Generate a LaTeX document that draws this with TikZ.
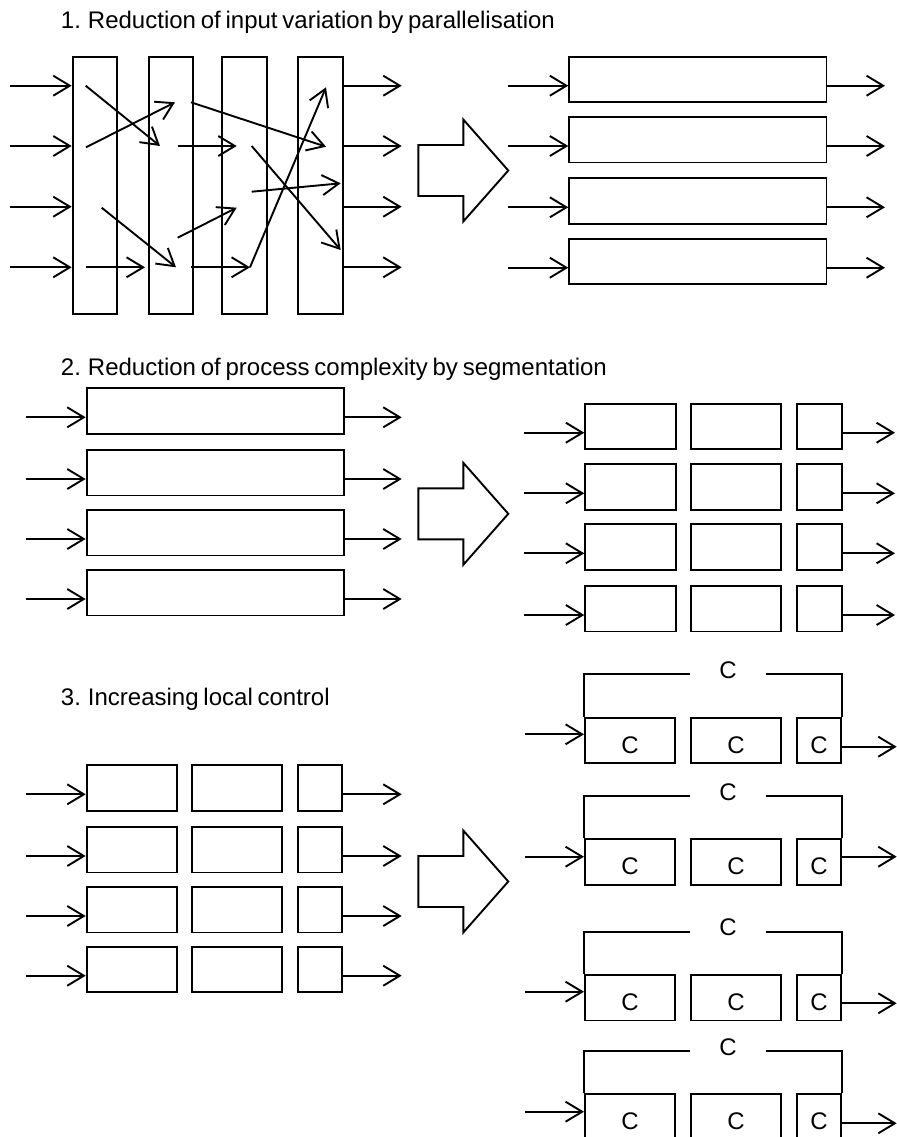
\documentclass[tikz,border=0pt]{standalone}
\usepackage{fontspec}
\setmainfont{Liberation Sans}
\usetikzlibrary{arrows.meta}
\newcommand\diagfont{\fontsize{12}{14}\selectfont\spaceskip=0.2em plus 0.05em\relax}

\begin{document}
\begin{tikzpicture}[
    x=0.5pt, y=-0.5pt,
    line width=0.95pt,
    every node/.style={font=\diagfont},
    blk/.style={rectangle, draw=black, line width=0.95pt, inner sep=0pt,
        anchor=north west, minimum height=22.75pt},
    colbox/.style={blk, minimum width=22.3pt, minimum height=128.7pt},
    longbox/.style={blk, minimum width=128.6pt},
    segA/.style={blk, minimum width=45.2pt},
    segB/.style={blk, minimum width=45.2pt},
    segC/.style={blk, minimum width=22.3pt},
    low/.style={text height=12.6pt, text depth=0pt},
    arr/.style={draw=black, line width=0.95pt,
        -{Straight Barb[length=8.3pt,width=10pt]}},
    ttl/.style={anchor=base west, inner sep=0pt},
    ctag/.style={inner sep=0pt, minimum width=37pt},
    bigarrow/.pic={
        \draw[line width=0.95pt] (0,0) -- (45,0) -- (45,-25.5) -- (90,25.5)
            -- (45,76.5) -- (45,51) -- (0,51) -- cycle;
    },
]
    \useasboundingbox (0,0) rectangle (896,1137);

    % 1. Parallelisation
    \node[ttl] (t1) at (60,28) {1. Reduction of input variation by parallelisation};
    \foreach \c/\x in {1/71.7, 2/147.7, 3/221, 4/297.3}
        \node[colbox] (pc\c) at (\x,55.7) {};
    \foreach \r/\y in {1/85.7, 2/146, 3/206.7, 4/267.3} {
        \coordinate (pi\r) at (10,\y);
        \coordinate (po\r) at (401.7,\y);
        \draw[arr] (pi\r) -- (pi\r -| pc1.west);
        \draw[arr] (po\r -| pc4.east) -- (po\r);
    }
    % crossing flows
    \foreach \n/\p in {s1/{85.7,85.7}, e1/{160,146},
        s2/{86,147.3}, e2/{175,102.3},
        s3/{101.7,207.7}, e3/{176,267.3},
        s4/{86,267.3}, e4/{145,267.3},
        s5/{177.7,146}, e5/{236.7,146},
        s6/{177.7,237.7}, e6/{236.7,207.7},
        s7/{191,102.3}, e7/{326,146.7},
        s8/{191,267.3}, e8/{250,267.3},
        s9/{250,267.3}, e9/{326,87.3},
        s10/{251.7,191.7}, e10/{340.7,183.3},
        s11/{251.7,146}, e11/{340.7,250}}
        \coordinate (\n) at (\p);
    \foreach \k in {1,...,11}
        \draw[arr] (s\k) -- (e\k);

    \pic at (418.3,145) {bigarrow};

    \foreach \r/\y in {1/55.7, 2/116, 3/177.3, 4/237.7} {
        \node[longbox] (pb\r) at (568.3,\y) {};
        \coordinate (qi\r) at (508.3,\y+30);
        \coordinate (qo\r) at (885,\y+30);
        \draw[arr] (qi\r) -- (qi\r -| pb\r.west);
        \draw[arr] (qo\r -| pb\r.east) -- (qo\r);
    }

    % 2. Segmentation
    \node[ttl] (t2) at (60,375) {2. Reduction of process complexity by segmentation};
    \foreach \r/\y in {1/387.3, 2/449, 3/509, 4/569} {
        \node[longbox] (sb\r) at (85.7,\y) {};
        \coordinate (si\r) at (26,\y+30);
        \coordinate (so\r) at (401.7,\y+30);
        \draw[arr] (si\r) -- (si\r -| sb\r.west);
        \draw[arr] (so\r -| sb\r.east) -- (so\r);
    }

    \pic at (418.3,488.3) {bigarrow};

    \foreach \r/\y in {1/402.7, 2/463.3, 3/523.3, 4/585} {
        \node[segA] (sA\r) at (584.3,\y) {};
        \node[segB] (sB\r) at (690,\y) {};
        \node[segC] (sC\r) at (796,\y) {};
        \coordinate (ti\r) at (524.3,\y+30);
        \coordinate (to\r) at (895,\y+30);
        \draw[arr] (ti\r) -- (ti\r -| sA\r.west);
        \draw[arr] (to\r -| sC\r.east) -- (to\r);
    }

    % 3. Local control
    \node[ttl] (t3) at (60,705) {3. Increasing local control};
    \foreach \r/\y in {1/764.3, 2/826, 3/886, 4/945.7} {
        \node[segA] (lA\r) at (85.7,\y) {};
        \node[segB] (lB\r) at (191,\y) {};
        \node[segC] (lC\r) at (296.7,\y) {};
        \coordinate (li\r) at (26,\y+30);
        \coordinate (lo\r) at (401.7,\y+30);
        \draw[arr] (li\r) -- (li\r -| lA\r.west);
        \draw[arr] (lo\r -| lC\r.east) -- (lo\r);
    }

    \pic at (418.3,856) {bigarrow};

    \foreach \g/\t/\a/\b in {1/716.7/734.3/746.7, 2/838.3/856.7/856.7,
        3/974/991.7/1003.3, 4/1093.3/1111.7/1123.3} {
        \node[segA, low] (cA\g) at (584,\t) {C};
        \node[segB, low] (cB\g) at (690,\t) {C};
        \node[segC, low] (cC\g) at (795.7,\t) {C};
        \coordinate (cl\g) at (728,\t-42.3);
        \node[ctag] (ct\g) at ([yshift=2pt]cl\g) {C};
        \draw (cA\g.north west) |- (ct\g.west |- cl\g);
        \draw (ct\g.east |- cl\g) -| (cC\g.north east);
        \coordinate (ci\g) at (525,\a);
        \coordinate (co\g) at (896.7,\b);
        \draw[arr] (ci\g) -- (ci\g -| cA\g.west);
        \draw[arr] (co\g -| cC\g.east) -- (co\g);
    }
\end{tikzpicture}
\end{document}
